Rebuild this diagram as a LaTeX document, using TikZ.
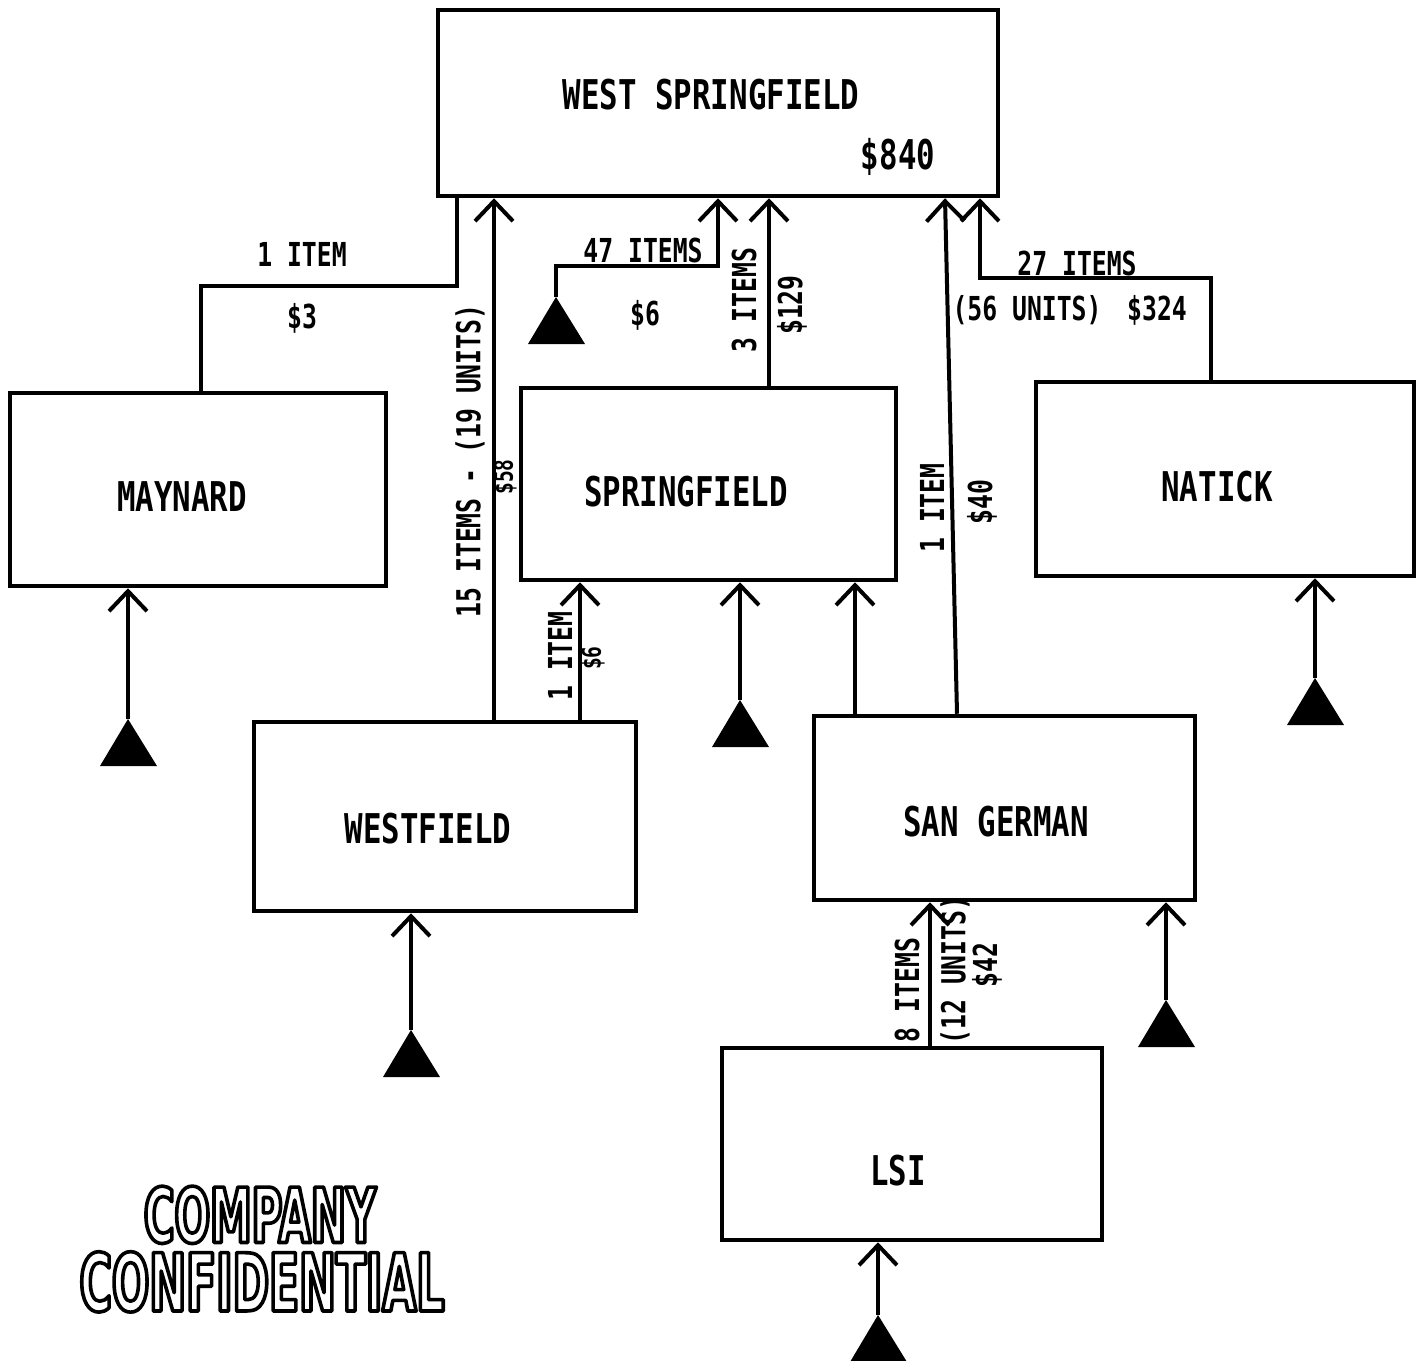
\documentclass[tikz,border=0pt]{standalone}
\usepackage{fontspec}
\usetikzlibrary{arrows.meta}
\newfontfamily\lgfont[FakeStretch=0.75]{DejaVu Sans Mono}
\newfontfamily\stampfont[FakeStretch=0.55]{DejaVu Sans}
\newcommand{\outlinetext}[1]{\special{pdf:literal q 1 Tr 3.6 w 1 j}#1\special{pdf:literal Q}}
\begin{document}
\begin{tikzpicture}[x=1pt,y=-1pt,
 box/.style={draw,line width=4.5pt,inner sep=0pt},
 big/.style={font=\lgfont\bfseries\fontsize{41}{48}\selectfont,inner sep=0pt},
 sm/.style={font=\lgfont\bfseries\fontsize{33}{38}\selectfont,inner sep=0pt},
 tinylab/.style={font=\lgfont\bfseries\fontsize{26}{30}\selectfont,inner sep=0pt},
 conn/.style={line width=4pt},
 arr/.style={conn,-{Straight Barb[length=20pt,width=38pt]}},
 tri/.style={fill=black},
 stamp/.style={inner sep=0pt,outer sep=0pt,text depth=0pt}]
\fill[white] (0,0) rectangle (1424,1360);
\useasboundingbox (0,0) rectangle (1424,1360);

% boxes
\node[box,minimum width=560pt,minimum height=186pt] (ws) at (718,103) {};
\node[box,minimum width=376pt,minimum height=193pt] (maynard) at (198,489.5) {};
\node[box,minimum width=375pt,minimum height=192pt] (spring) at (708.5,484) {};
\node[box,minimum width=378pt,minimum height=194pt] (natick) at (1225,479) {};
\node[box,minimum width=382pt,minimum height=189pt] (westf) at (445,816.5) {};
\node[box,minimum width=381pt,minimum height=184pt] (sang) at (1004.5,808) {};
\node[box,minimum width=380pt,minimum height=192pt] (lsi) at (912,1144) {};

% box labels
\node[big] (wsT) at (711,95) {WEST SPRINGFIELD};
\node[big] (wsV) at (898,157) {\$840};
\node[big] (mayT) at (182,497) {MAYNARD};
\node[big] (sprT) at (686,492) {SPRINGFIELD};
\node[big] (natT) at (1217,487) {NATICK};
\node[big] (wfT) at (428,829) {WESTFIELD};
\node[big] (sgT) at (996,822) {SAN GERMAN};
\node[big] (lsiT) at (898,1171) {LSI};

% source triangles (apex coordinates)
\coordinate (ta) at (556,297);
\coordinate (tb) at (128,719);
\coordinate (tc) at (740,700);
\coordinate (td) at (1315,678);
\coordinate (te) at (411,1030);
\coordinate (tf) at (1166,1000);
\coordinate (tg) at (878,1315);
\foreach \t in {ta,tb,tc,td,te,tf,tg}{
  \fill[tri] (\t) -- ++(-28,47) -- ++(57,0) -- cycle;
}

% bend coordinates
\coordinate (m1) at (201,286);
\coordinate (m2) at (457,286);
\coordinate (a1) at (556,266);
\coordinate (a2) at (718,266);
\coordinate (n1) at (1211,278);
\coordinate (n2) at (980,278);
\coordinate (xwf) at (494,0);
\coordinate (xsp) at (769,0);
\coordinate (xwf2) at (580,0);
\coordinate (xsg2) at (855,0);
\coordinate (xlsi) at (930,0);
\coordinate (sgTop) at (945,0);
\coordinate (sgBot) at (957,0);

% connectors to West Springfield
\draw[conn] (maynard.north -| m1) -- (m1) -- (m2) -- (ws.south -| m2);
\draw[arr] (westf.north -| xwf) -- (ws.south -| xwf);
\draw[arr] (ta) -- (a1) -- (a2) -- (ws.south -| a2);
\draw[arr] (spring.north -| xsp) -- (ws.south -| xsp);
\draw[arr] (sang.north -| sgBot) -- (ws.south -| sgTop);
\draw[arr] (natick.north -| n1) -- (n1) -- (n2) -- (ws.south -| n2);

% other connectors
\draw[arr] (tb) -- (tb |- maynard.south);
\draw[arr] (westf.north -| xwf2) -- (spring.south -| xwf2);
\draw[arr] (tc) -- (tc |- spring.south);
\draw[arr] (sang.north -| xsg2) -- (spring.south -| xsg2);
\draw[arr] (td) -- (td |- natick.south);
\draw[arr] (te) -- (te |- westf.south);
\draw[arr] (lsi.north -| xlsi) -- (sang.south -| xlsi);
\draw[arr] (tf) -- (tf |- sang.south);
\draw[arr] (tg) -- (tg |- lsi.south);

% connector labels
\node[sm] (l1) at (302,254) {1 ITEM};
\node[sm] (l2) at (302,318) {\$3};
\node[sm,rotate=90] (l3) at (470,461) {15 ITEMS - (19 UNITS)};
\node[tinylab,rotate=90] (l4) at (505,477) {\$58};
\node[sm] (l5) at (643,250) {47 ITEMS};
\node[sm] (l6) at (645,315) {\$6};
\node[sm,rotate=90] (l7) at (744,300) {3 ITEMS};
\node[sm,rotate=90] (l8) at (792,305) {\$129};
\node[sm] (l9) at (1077,263) {27 ITEMS};
\node[sm] (l10) at (1027,310) {(56 UNITS)};
\node[sm] (l11) at (1157,310) {\$324};
\node[sm,rotate=90] (l12) at (932,508) {1 ITEM};
\node[sm,rotate=90] (l13) at (982,502) {\$40};
\node[sm,rotate=90] (l14) at (560,656) {1 ITEM};
\node[tinylab,rotate=90] (l15) at (593,658) {\$6};
\node[sm,rotate=90] (l16) at (907,990) {8 ITEMS};
\node[sm,rotate=90] (l17) at (955,970) {(12 UNITS)};
\node[sm,rotate=90] (l18) at (987,965) {\$42};

% stamp
\node[stamp,text height=55pt,font=\stampfont\bfseries\fontsize{76}{80}\selectfont] (st1) at (260,1215) {\outlinetext{COMPANY}};
\node[stamp,text height=58pt,font=\stampfont\bfseries\fontsize{80}{86}\selectfont] (st2) at (262,1282) {\outlinetext{CONFIDENTIAL}};
\end{tikzpicture}
\end{document}
